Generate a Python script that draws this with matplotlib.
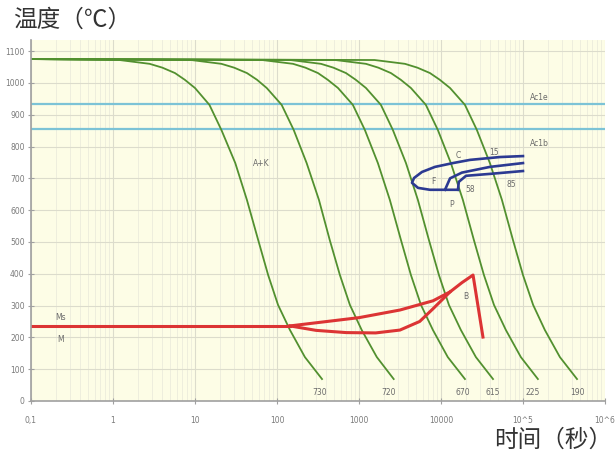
import matplotlib
matplotlib.use("Agg")
import matplotlib.pyplot as plt
from matplotlib.ticker import FixedLocator, LogLocator, NullFormatter

# 冷却曲线 (时间 s, 温度 °C)
c730_t = [0.1, 1.2, 2.8, 4, 5.7, 7.5, 10, 15, 21, 31, 43, 59, 78, 103, 144, 219, 354]
c730_T = [1075, 1072, 1060, 1048, 1031, 1010, 984, 931, 852, 748, 632, 506, 396, 302, 223, 138, 69]
c720_t = [0.1, 9, 21, 30, 43, 57, 75, 114, 160, 230, 325, 440, 585, 775, 1080, 1650, 2650]
c720_T = [1075, 1072, 1060, 1048, 1031, 1010, 984, 931, 852, 748, 632, 506, 396, 302, 223, 138, 69]
c670_t = [0.1, 66, 157, 222, 316, 415, 555, 842, 1180, 1700, 2380, 3250, 4300, 5700, 7980, 12100, 19600]
c670_T = [1075, 1072, 1060, 1048, 1031, 1010, 984, 931, 852, 748, 632, 506, 396, 302, 223, 138, 69]
c615_t = [0.1, 146, 344, 487, 694, 912, 1217, 1850, 2590, 3740, 5230, 7130, 9440, 12500, 17500, 26650, 43100]
c615_T = [1075, 1072, 1060, 1048, 1031, 1010, 984, 931, 852, 748, 632, 506, 396, 302, 223, 138, 69]
c225_t = [0.1, 516, 1217, 1720, 2450, 3230, 4300, 6540, 9160, 13200, 18500, 25200, 33400, 44300, 61900, 94200, 152000]
c225_T = [1075, 1072, 1060, 1048, 1031, 1010, 984, 931, 852, 748, 632, 506, 396, 302, 223, 138, 69]
c190_t = [0.1, 1550, 3640, 5150, 7340, 9660, 12900, 19600, 27400, 39500, 55400, 75500, 100000, 133000, 185000, 282000, 456000]
c190_T = [1075, 1072, 1060, 1048, 1031, 1010, 984, 931, 852, 748, 632, 506, 396, 302, 223, 138, 69]
cool_curves = [(c730_t, c730_T), (c720_t, c720_T), (c670_t, c670_T),
               (c615_t, c615_T), (c225_t, c225_T), (c190_t, c190_T)]
hardness = ["730", "720", "670", "615", "225", "190"]
hardness_t = [334, 2320, 18500, 43000, 132000, 456000]

Ac1e = 935
Ac1b = 855

# 铁素体/珠光体转变线
f_start_t = [100000, 52500, 22600, 14000, 8450, 5860, 4690, 4430, 5250, 7350, 11200, 16100]
f_start_T = [770, 767, 758, 748, 736, 720, 701, 686, 670, 664, 664, 664]
p_start_t = [11200, 12900, 18000, 39600, 100000]
p_start_T = [664, 700, 718, 736, 748]
p_end_t = [16100, 16500, 20200, 39600, 100000]
p_end_T = [664, 689, 708, 714, 723]

# 马氏体 / 贝氏体
ms_t = [0.1, 144]
ms_T = [236, 236]
b_up_t = [144, 1000, 3160, 8000, 12900, 18000, 24600, 32500]
b_up_T = [236, 262, 286, 315, 343, 372, 396, 201]
b_low_t = [144, 300, 700, 1600, 3160, 5500, 8000, 12900]
b_low_T = [236, 222, 215, 214, 223, 250, 290, 343]

x_ticks = [0.1, 1, 10, 100, 1000, 10000, 1e5, 1e6]
x_labels = ["0,1", "1", "10", "100", "1000", "10000", "10^5", "10^6"]
y_ticks = list(range(0, 1101, 100))

fig = plt.figure(figsize=(6.15, 4.59), dpi=100)
ax = fig.add_axes([0.0504, 0.1264, 0.9333, 0.7865])
ax.set_facecolor("#fdfde6")

ax.set_xscale("log")
ax.set_xlim(0.1, 1e6)
ax.set_ylim(0, 1135)

ax.xaxis.set_major_locator(FixedLocator(x_ticks))
ax.set_xticklabels(x_labels)
ax.xaxis.set_minor_locator(LogLocator(base=10, subs=range(2, 10), numticks=20))
ax.xaxis.set_minor_formatter(NullFormatter())
ax.set_yticks(y_ticks)

ax.grid(True, which="major", color="#dcdccc", lw=0.8)
ax.grid(True, which="minor", axis="x", color="#ececdc", lw=0.6)
ax.set_axisbelow(True)

for s in ["top", "right"]:
    ax.spines[s].set_visible(False)
for s in ["left", "bottom"]:
    ax.spines[s].set_color("#a0a0a0")
    ax.spines[s].set_linewidth(1.2)

ax.tick_params(which="major", direction="inout", length=5, width=0.8, color="#a0a0a0",
               labelsize=5.5, labelcolor="#7a7a7a")
ax.tick_params(axis="x", which="major", pad=8)
ax.tick_params(axis="y", which="major", pad=2)
ax.tick_params(which="minor", length=0)
for lbl in ax.get_xticklabels() + ax.get_yticklabels():
    lbl.set_family("DejaVu Sans")

# Ac1 线
ax.axhline(Ac1e, color="#7cc3d6", lw=1.6)
ax.axhline(Ac1b, color="#7cc3d6", lw=1.6)
ax.text(122000, 955, "Ac1e", fontsize=5.5, color="#6a6a6a", va="center")
ax.text(122000, 808, "Ac1b", fontsize=5.5, color="#6a6a6a", va="center")

# 冷却曲线
for (tt, TT) in cool_curves:
    ax.plot(tt, TT, color="#52902f", lw=1.3)
for lab, tx in zip(hardness, hardness_t):
    ax.text(tx, 26, lab, fontsize=5.5, color="#6a6a6a", ha="center", va="center")

# 转变线
blue = "#2c3a92"
ax.plot(f_start_t, f_start_T, color=blue, lw=1.9)
ax.plot(p_start_t, p_start_T, color=blue, lw=1.9)
ax.plot(p_end_t, p_end_T, color=blue, lw=1.9)

red = "#dc3434"
ax.plot(ms_t, ms_T, color=red, lw=2.2)
ax.plot(b_up_t, b_up_T, color=red, lw=2.2)
ax.plot(b_low_t, b_low_T, color=red, lw=2.2)

# 标注
note = dict(fontsize=5.5, color="#6a6a6a", ha="center", va="center")
ax.text(65, 748, "A+K", **note)
ax.text(0.23, 261, "Ms", **note)
ax.text(0.23, 192, "M", **note)
ax.text(20200, 330, "B", **note)
ax.text(16100, 772, "C", **note)
ax.text(44300, 780, "15", **note)
ax.text(22600, 664, "58", **note)
ax.text(71400, 682, "85", **note)
ax.text(13600, 619, "P", **note)
ax.text(7980, 689, "F", **note)

cjk = ["Noto Sans CJK SC", "DejaVu Sans"]
fig.text(0.022, 0.955, "温度（℃）", family=cjk, fontsize=17, color="#333333",
         ha="left", va="center")
fig.text(0.995, 0.04, "时间（秒）", family=cjk, fontsize=17, color="#333333",
         ha="right", va="center")

fig.savefig("out.png", dpi=100)
